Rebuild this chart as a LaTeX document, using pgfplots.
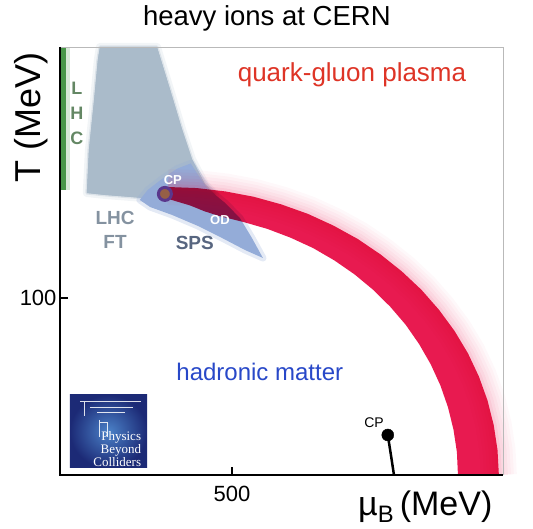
\documentclass[border=0pt]{standalone}
\usepackage{pgfplots}
\pgfplotsset{compat=1.18}
\usepackage{fontspec}
\setmainfont{Liberation Sans}
\newfontfamily\logofont{Liberation Serif}

\definecolor{qgpred}{RGB}{232,26,80}
\definecolor{qgptext}{RGB}{222,52,38}
\definecolor{hadblue}{RGB}{40,72,200}
\definecolor{fangray}{RGB}{170,187,202}
\definecolor{spsblue}{RGB}{148,172,216}
\definecolor{lhcgreen}{RGB}{72,150,72}
\definecolor{lhctext}{RGB}{100,135,100}
\definecolor{fttext}{RGB}{132,146,160}
\definecolor{spstext}{RGB}{88,102,128}
\definecolor{cpfill}{RGB}{150,95,70}
\definecolor{cpedge}{RGB}{90,55,140}

% outer and inner edge of the crossover band
\pgfplotstableread{
mu T
314 162.7
398 162.1
481 160.2
563 157.2
643 152.9
721 147.5
795 140.9
866 133.3
932 124.6
994 115.0
1051 104.6
1102 93.3
1147 81.4
1186 68.8
1218 55.6
1243 42.1
1261 28.2
1272 14.2
1276 0
}\outeredge

\begin{document}
\begin{tikzpicture}
\begin{axis}[
    scale only axis,
    width=443pt, height=428pt,
    xmin=0, xmax=1288, ymin=0, ymax=241.8,
    clip=false,
    axis line style={draw=none},
    tick pos=left,
    xtick={500}, xticklabels={500},
    ytick={100}, yticklabels={100},
    major tick length=8pt,
    tick style={black, line width=1.6pt},
    /pgf/number format/assume math mode=true,
    tick label style={font=\fontsize{22}{24}\selectfont},
    xticklabel style={yshift=-8pt},
    title={heavy ions at CERN},
    title style={at={(axis description cs:0.467,1.037)}, anchor=base,
        font=\fontsize{27.5}{30}\selectfont},
    ylabel={T (MeV)},
    ylabel style={at={(axis description cs:-0.043,0.836)}, anchor=base,
        font=\fontsize{36}{40}\selectfont},
    xlabel={\textmu\textsubscript{B}\,(MeV)},
    xlabel style={at={(axis description cs:0.984,-0.0935)}, anchor=base east,
        font=\fontsize{34}{40}\selectfont},
]

% LHC line
\addplot[fill=lhcgreen!22, draw=none] coordinates {(16,161)(30,161)(30,241.8)(16,241.8)} -- cycle;
\addplot[fill=lhcgreen, draw=none] coordinates {(3,161)(18,161)(18,241.8)(3,241.8)} -- cycle;

% LHC FT fan
\addplot[fill=fangray, draw=fangray, line width=8pt, draw opacity=0.15, line join=round]
  coordinates {(116,241.8)(282,241.8)(320,217.8)(355,195.2)(384,178.3)(422,164.2)(451,158.5)
  (305,155.4)(203,157.1)(131,158.2)(78,159.3)(84,183.6)(99,211.9)(110,234.5)} -- cycle;
\addplot[fill=fangray, draw=fangray, line width=3pt, draw opacity=0.3, line join=round]
  coordinates {(116,241.8)(282,241.8)(320,217.8)(355,195.2)(384,178.3)(422,164.2)(451,158.5)
  (305,155.4)(203,157.1)(131,158.2)(78,159.3)(84,183.6)(99,211.9)(110,234.5)} -- cycle;

% SPS region
\addplot[fill=spsblue, draw=spsblue, line width=7pt, draw opacity=0.25, line join=round]
  coordinates {(380,176)(400,170)(427,162.2)(480,153.7)(523,145.2)(558,133.9)(590,122.6)
  (538,127.1)(471,133.9)(401,140.7)(326,146.9)(262,151.4)(232,155.4)(255,161.0)(295,167)(340,173)} -- cycle;

% glow along the outer edge of the band
\addplot[draw=qgpred, line width=36pt, draw opacity=0.03, line join=round] table {\outeredge};
\addplot[draw=qgpred, line width=30pt, draw opacity=0.03, line join=round] table {\outeredge};
\addplot[draw=qgpred, line width=24pt, draw opacity=0.035, line join=round] table {\outeredge};
\addplot[draw=qgpred, line width=18pt, draw opacity=0.04, line join=round] table {\outeredge};
\addplot[draw=qgpred, line width=12pt, draw opacity=0.05, line join=round] table {\outeredge};
\addplot[draw=qgpred, line width=6pt, draw opacity=0.07, line join=round] table {\outeredge};

% crossover band
\addplot[fill=qgpred, draw=none, blend mode=multiply] coordinates {
  (314,162.7)(398,162.1)(481,160.2)(563,157.2)(643,152.9)(721,147.5)(795,140.9)(866,133.3)
  (932,124.6)(994,115.0)(1051,104.6)(1102,93.3)(1147,81.4)(1186,68.8)(1218,55.6)(1243,42.1)
  (1261,28.2)(1272,14.2)(1276,0)
  (1157,0)(1154,12.9)(1144,25.7)(1128,38.3)(1106,50.6)(1078,62.5)(1044,74.0)(1005,84.9)
  (960,95.1)(910,104.7)(856,113.4)(798,121.2)(736,128.2)(670,134.1)(602,139.1)(532,143.0)
  (460,146.5)(420,149.0)(378,152.3)(340,154.5)(318,155.8)} -- cycle;

% critical points
\addplot[only marks, mark=*, mark size=6.5pt, mark options={fill=cpfill, draw=cpedge, line width=3pt}]
  coordinates {(305,158.8)};
\addplot[black, line width=2.5pt, smooth] coordinates {(953,22.6)(962,11.5)(971,0)};
\addplot[only marks, mark=*, mark size=6pt, black] coordinates {(953,22.6)};

% frame
\draw[gray!55, line width=0.8pt] (rel axis cs:0,1) -- (rel axis cs:1,1) -- (rel axis cs:1,0);
\draw[black, line width=2pt] (rel axis cs:0,1) -- (rel axis cs:0,0) -- (rel axis cs:1,0);

% texts
\node[text=qgptext, font=\fontsize{26}{28}\selectfont] at (axis cs:849,226) {quark-gluon plasma};
\node[text=hadblue, font=\fontsize{24}{28}\selectfont] at (axis cs:581,58.2) {hadronic matter};
\node[text=lhctext, font=\bfseries\fontsize{18}{20}\selectfont] at (axis cs:49,218.5) {L};
\node[text=lhctext, font=\bfseries\fontsize{18}{20}\selectfont] at (axis cs:49,204.5) {H};
\node[text=lhctext, font=\bfseries\fontsize{18}{20}\selectfont] at (axis cs:49,190) {C};
\node[text=fttext, font=\bfseries\fontsize{19}{21}\selectfont] at (axis cs:160,145.2) {LHC};
\node[text=fttext, font=\bfseries\fontsize{19}{21}\selectfont] at (axis cs:160,131.6) {FT};
\node[text=spstext, font=\bfseries\fontsize{19}{21}\selectfont] at (axis cs:392,131) {SPS};
\node[text=white, font=\bfseries\fontsize{13}{15}\selectfont] at (axis cs:328,166.7) {CP};
\node[text=white, font=\bfseries\fontsize{13}{15}\selectfont] at (axis cs:465,144) {OD};
\node[text=black, font=\fontsize{14}{16}\selectfont] at (axis cs:913,29.4) {CP};

% Physics Beyond Colliders logo
\shade[inner color={rgb,255:red,75;green,130;blue,200}, outer color={rgb,255:red,28;green,42;blue,118}]
  (axis cs:29,4) rectangle (axis cs:253,45.2);
\draw[white, line width=0.8pt, opacity=0.85] (axis cs:58,41.8) -- (axis cs:235,41.8)
  (axis cs:70,41.8) -- (axis cs:70,33.3)
  (axis cs:87,38.4) -- (axis cs:212,38.4)
  (axis cs:108,35.6) -- (axis cs:189,35.6)
  (axis cs:116,31.1) -- (axis cs:116,21.5)
  (axis cs:116,29.9) -- (axis cs:137,29.9) -- (axis cs:137,21.5);
\node[text=white, font=\logofont\fontsize{13}{11.5}\selectfont, align=right, anchor=east]
  at (axis cs:246,14.5) {Physics\\Beyond\\Colliders};
\end{axis}
\pgfresetboundingbox
\path[use as bounding box] ([shift={(-60pt,-54pt)}]current axis.south west) rectangle ++(533pt,529pt);
\end{tikzpicture}
\end{document}
